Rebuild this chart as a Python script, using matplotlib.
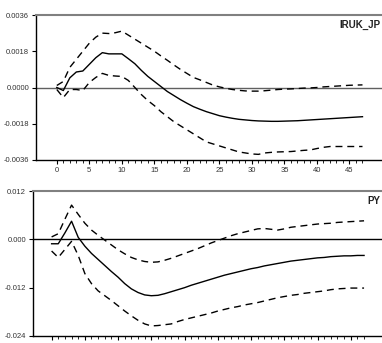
import matplotlib
matplotlib.use('Agg')
import matplotlib.pyplot as plt
from matplotlib.ticker import FixedLocator, FormatStrFormatter

plt.rcParams['font.family'] = ['Liberation Sans', 'DejaVu Sans']

periods = list(range(48))

# IRUK_JP response and bands
iruk_mid = [0.0, -0.00015, 0.00048, 0.00077, 0.00082, 0.00115, 0.00148, 0.00173, 0.00167, 0.00167,
            0.00167, 0.00143, 0.00118, 0.00085, 0.00055, 0.0003, 0.00005, -0.0002, -0.0004, -0.0006,
            -0.00078, -0.00095, -0.00108, -0.0012, -0.0013, -0.0014, -0.00147, -0.00153, -0.00158, -0.00161,
            -0.00164, -0.00166, -0.00167, -0.00168, -0.00168, -0.00167, -0.00166, -0.00165, -0.00163, -0.00161,
            -0.00159, -0.00157, -0.00155, -0.00153, -0.00151, -0.00149, -0.00147, -0.00145]
iruk_hi = [0.0001, 0.0003, 0.001, 0.0014, 0.0018, 0.0022, 0.0025, 0.0027, 0.00268, 0.00272,
           0.0028, 0.0026, 0.0024, 0.0022, 0.002, 0.0018, 0.00157, 0.00135, 0.00112, 0.0009,
           0.0007, 0.0005, 0.00038, 0.00025, 0.00012, 0.00003, -0.00004, -0.0001, -0.00014, -0.00017,
           -0.00018, -0.00018, -0.00016, -0.00013, -0.0001, -0.00008, -0.00007, -0.00005, -0.00003, -0.00002,
           0.0, 0.00003, 0.00005, 0.00007, 0.00009, 0.00011, 0.00012, 0.00013]
iruk_lo = [-0.0001, -0.0005, -0.0001, -0.0001, -0.00015, 0.00025, 0.0005, 0.0007, 0.0006, 0.00057,
           0.00055, 0.00035, 0.0, -0.00035, -0.00065, -0.0009, -0.0012, -0.00145, -0.0017, -0.0019,
           -0.0021, -0.0023, -0.0025, -0.0027, -0.0028, -0.0029, -0.003, -0.0031, -0.0032, -0.00325,
           -0.0033, -0.00332, -0.00325, -0.00322, -0.0032, -0.00319, -0.00318, -0.00315, -0.00312, -0.0031,
           -0.00303, -0.00297, -0.00293, -0.00293, -0.00293, -0.00293, -0.00293, -0.00293]

# PY response and bands
py_mid = [-0.0011, -0.0011, 0.0016, 0.0045, 0.0005, -0.0017, -0.0035, -0.005, -0.0065, -0.008,
          -0.0094, -0.011, -0.0123, -0.0132, -0.0138, -0.014, -0.0139, -0.0135, -0.013, -0.0125,
          -0.012, -0.0114, -0.0109, -0.0104, -0.0099, -0.0094, -0.0089, -0.0085, -0.0081, -0.0077,
          -0.0073, -0.007, -0.0066, -0.0063, -0.006, -0.0057, -0.0054, -0.0052, -0.005, -0.0048,
          -0.0046, -0.0045, -0.0043, -0.0042, -0.0041, -0.0041, -0.004, -0.004]
py_hi = [0.0006, 0.0014, 0.005, 0.0085, 0.0062, 0.004, 0.0023, 0.001, -0.0002, -0.0014,
         -0.0026, -0.0036, -0.0045, -0.0051, -0.0055, -0.0057, -0.0056, -0.0052, -0.0047, -0.0041,
         -0.0035, -0.0029, -0.0023, -0.0016, -0.0009, -0.0003, 0.0003, 0.0009, 0.0014, 0.0018,
         0.0022, 0.0026, 0.0027, 0.0025, 0.0023, 0.0026, 0.003, 0.0032, 0.0034, 0.0036,
         0.0038, 0.0039, 0.004, 0.0042, 0.0043, 0.0044, 0.0045, 0.0046]
py_lo = [-0.0029, -0.0045, -0.0025, -0.0005, -0.004, -0.0085, -0.011, -0.0128, -0.014, -0.0152,
         -0.0165, -0.0178, -0.019, -0.0201, -0.021, -0.0215, -0.0214, -0.0212, -0.021, -0.0204,
         -0.0199, -0.0195, -0.0191, -0.0187, -0.0183, -0.0178, -0.0174, -0.017, -0.0167, -0.0163,
         -0.016, -0.0157, -0.0153, -0.0149, -0.0145, -0.0142, -0.0139, -0.0137, -0.0134, -0.0132,
         -0.013, -0.0128, -0.0125, -0.0123, -0.0122, -0.0121, -0.0121, -0.0121]

top_ticks = [-0.0036, -0.0018, 0.0, 0.0018, 0.0036]
bot_ticks = [-0.024, -0.012, 0.0, 0.012]
x_major = list(range(0, 50, 5))


def style_panel(ax, yticks, fmt, title, zero_color, xlim):
    ax.set_xlim(*xlim)
    ax.set_ylim(yticks[0], yticks[-1])
    ax.axhline(0, color=zero_color, lw=1.0, zorder=1)
    ax.spines['right'].set_visible(False)
    ax.spines['top'].set_color('#808080')
    ax.spines['top'].set_linewidth(1.5)
    ax.spines['left'].set_linewidth(1.0)
    ax.spines['bottom'].set_linewidth(1.0)
    ax.set_yticks(yticks)
    ax.yaxis.set_major_formatter(FormatStrFormatter(fmt))
    ax.xaxis.set_major_locator(FixedLocator(x_major))
    ax.xaxis.set_minor_locator(FixedLocator(periods))
    ax.tick_params(axis='both', which='major', labelsize=5.5, labelcolor='#333333',
                   length=3, width=0.8, direction='out', pad=2)
    ax.tick_params(axis='x', which='minor', length=2, width=0.6, direction='out')
    ax.text(0.995, 0.93, title, transform=ax.transAxes, ha='right', va='center',
            fontsize=7, fontweight='bold', color='#222222')


fig = plt.figure(figsize=(3.82, 3.43), dpi=100)

ax1 = fig.add_axes([36 / 382, 183 / 343, 346 / 382, 145 / 343])
ax1.plot(periods, iruk_mid, color='black', lw=1.0)
ax1.plot(periods, iruk_hi, color='black', lw=1.0, ls=(0, (5, 3.5)))
ax1.plot(periods, iruk_lo, color='black', lw=1.0, ls=(0, (5, 3.5)))
style_panel(ax1, top_ticks, '%.4f', 'IRUK_JP', '#606060', (-3.2, 50.0))

ax2 = fig.add_axes([33 / 382, 7 / 343, 349 / 382, 145 / 343])
ax2.plot(periods, py_mid, color='black', lw=1.0)
ax2.plot(periods, py_hi, color='black', lw=1.0, ls=(0, (5, 3.5)))
ax2.plot(periods, py_lo, color='black', lw=1.0, ls=(0, (5, 3.5)))
style_panel(ax2, bot_ticks, '%.3f', 'PY', 'black', (-2.8, 49.7))

fig.savefig('out.png', dpi=100)
